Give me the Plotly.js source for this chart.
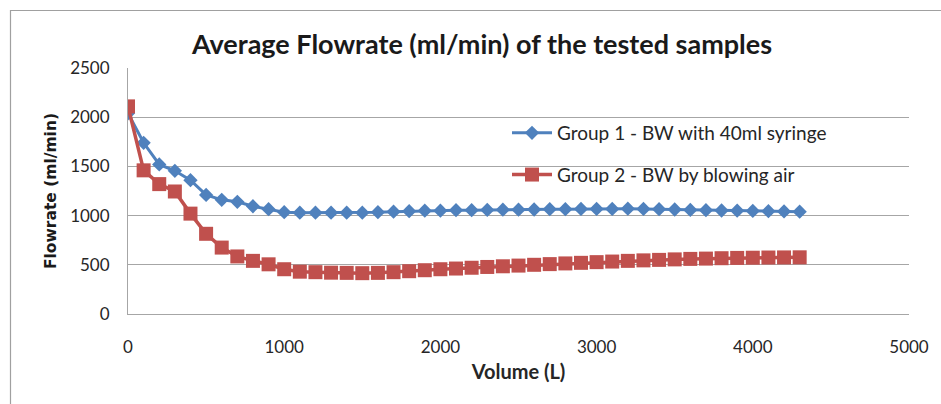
<!DOCTYPE html>
<html>
<head>
<meta charset="utf-8">
<script src="https://cdn.plot.ly/plotly-3.0.1.min.js"></script>
<style>html,body{margin:0;padding:0;background:#fff;}#chart{width:941px;height:404px;}</style>
</head>
<body>
<div id="chart"></div>
<script>
const volume = [0,100,200,300,400,500,600,700,800,900,1000,1100,1200,1300,1400,1500,1600,1700,1800,1900,2000,2100,2200,2300,2400,2500,2600,2700,2800,2900,3000,3100,3200,3300,3400,3500,3600,3700,3800,3900,4000,4100,4200,4300];
const group1 = [2040,1740,1520,1455,1360,1210,1160,1140,1095,1065,1035,1030,1030,1030,1030,1030,1035,1040,1045,1050,1050,1055,1055,1058,1060,1060,1062,1065,1065,1068,1068,1068,1070,1068,1065,1062,1058,1055,1052,1050,1048,1045,1042,1040];
const group2 = [2110,1460,1320,1245,1020,815,675,585,540,505,455,430,425,420,418,415,418,425,435,445,455,462,470,478,485,492,500,507,514,520,527,533,540,545,550,555,560,563,567,570,572,574,575,576];
const seriesNames = ["Group 1 - BW with 40ml syringe", "Group 2 - BW by blowing air"];
const xTicks = [0,1000,2000,3000,4000,5000];
const yTicks = [0,500,1000,1500,2000,2500];

const FONT = "Lato, 'Open Sans', sans-serif";
const traces = [
  {x: volume, y: group1, name: seriesNames[0], type: 'scatter', mode: 'lines+markers', legendgroup: 'g1',
   line: {color: '#4F81BD', width: 3}, marker: {symbol: 'diamond', size: 11, color: '#4F81BD'}},
  {x: volume, y: group2, name: seriesNames[1], type: 'scatter', mode: 'lines+markers', legendgroup: 'g2',
   line: {color: '#C0504D', width: 3.5}, marker: {symbol: 'square', size: 14, color: '#C0504D'}}
];
const W = 941, H = 404, L = 128, R = 32, T = 68, B = 90;
const pw = W - L - R, ph = H - T - B;
const px2x = p => (p - L) / pw;
const py2y = p => (H - B - p) / ph;
const layout = {
  width: W, height: H,
  margin: {l: L, r: R, t: T, b: B, pad: 0},
  paper_bgcolor: '#fff', plot_bgcolor: '#fff',
  font: {family: FONT, color: '#262626', size: 17},
  title: {text: 'Average Flowrate (ml/min) of the tested samples', font: {family: FONT, size: 27, color: '#1a1a1a', weight: 'bold'},
          xref: 'container', yref: 'container', x: 482/941, xanchor: 'center', y: 1 - 45/404, yanchor: 'middle'},
  xaxis: {range: [0, 5000], tickvals: xTicks, ticktext: xTicks.map(String), showgrid: false, zeroline: false,
          showline: true, linecolor: '#a6a6a6', linewidth: 1, ticks: '', ticklabelstandoff: 18,
          tickfont: {family: FONT, size: 17, color: '#262626'},
          title: {text: 'Volume (L)', font: {family: FONT, size: 20, color: '#262626', weight: 'bold'}, standoff: 8},
          automargin: false, fixedrange: true},
  yaxis: {range: [0, 2500], tickvals: yTicks, ticktext: yTicks.map(String), showgrid: true, gridcolor: '#a6a6a6', gridwidth: 1,
          zeroline: false, showline: true, linecolor: '#a6a6a6', linewidth: 1, ticks: '', ticklabelstandoff: 14,
          tickfont: {family: FONT, size: 17, color: '#262626'},
          title: {text: 'Flowrate (ml/min)', font: {family: "'DejaVu Sans', Verdana, sans-serif", size: 15.5, color: '#1a1a1a', weight: 'bold'}, standoff: 9},
          automargin: false, fixedrange: true},
  legend: {x: px2x(507), xanchor: 'left', y: py2y(114), yanchor: 'top', bgcolor: 'rgba(0,0,0,0)',
           font: {family: FONT, size: 19, color: '#262626'}, tracegroupgap: 14, traceorder: 'grouped', itemwidth: 40},
  showlegend: true,
  shapes: [
    {type: 'path', xref: 'paper', yref: 'paper',
     path: `M ${px2x(960)} ${py2y(10.5)} L ${px2x(10.5)} ${py2y(10.5)} L ${px2x(10.5)} ${py2y(420)}`,
     line: {color: '#a0a0a0', width: 1.2}}
  ]
};
Plotly.newPlot('chart', traces, layout, {displayModeBar: false, staticPlot: true});
</script>
</body>
</html>
